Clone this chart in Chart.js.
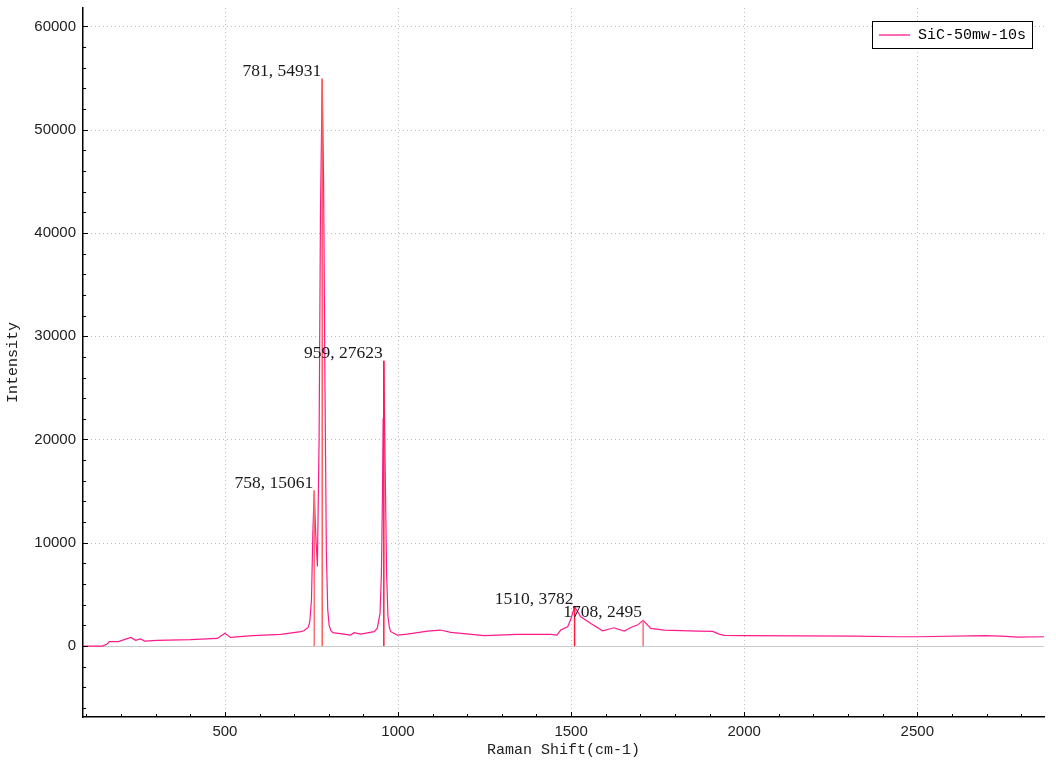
<!DOCTYPE html>
<html>
<head>
<meta charset="utf-8">
<script src="https://cdn.jsdelivr.net/npm/chart.js@4/dist/chart.umd.min.js"></script>
<style>
  html, body { margin: 0; padding: 0; background: #fff; }
  #wrap { width: 1056px; height: 768px; }
</style>
</head>
<body>
<div id="wrap"><canvas id="raman" width="1056" height="768"></canvas></div>
<script>
// spectrum (Raman shift, intensity)
const specX = [90, 146, 160, 166, 192, 228, 242, 256, 268, 304, 400, 478, 500, 516, 580, 661, 719, 728,
  740, 745, 750, 754, 758, 762, 767, 772, 776, 781, 785, 789, 793, 797, 801, 806, 812,
  863, 873, 892, 931, 940, 948, 952, 955, 957, 959, 961, 964, 967, 971, 975, 979,
  998, 1027, 1085, 1123, 1152, 1249, 1345, 1441, 1459, 1470, 1490, 1499, 1510, 1528,
  1557, 1591, 1624, 1653, 1677, 1692, 1708, 1730, 1769, 1865, 1909, 1928, 1942,
  2000, 2318, 2437, 2500, 2694, 2742, 2790, 2866]
const specY = [0, 0, 200, 420, 430, 840, 550, 700, 480, 550, 620, 740, 1230, 840, 1000, 1130, 1390, 1480,
  1800, 2300, 4500, 11000, 15061, 11000, 7700, 20000, 42000, 54931, 45000, 25000, 9000, 3500, 2000, 1500, 1300,
  1065, 1290, 1160, 1390, 1710, 3160, 7000, 14450, 22000, 27623, 22000, 14450, 7000, 2840, 1800, 1390,
  1065, 1160, 1450, 1550, 1320, 1000, 1130, 1130, 1065, 1550, 1870, 2600, 3782, 2840,
  2190, 1480, 1770, 1450, 1870, 2030, 2495, 1710, 1550, 1450, 1420, 1160, 1035,
  1000, 970, 900, 900, 1000, 970, 870, 900]

// marked peaks
const peakX = [758, 781, 959, 1510, 1708]
const peakY = [15061, 54931, 27623, 3782, 2495]

// tick labels
const xTicks = [500, 1000, 1500, 2000, 2500]
const yTicks = [0, 10000, 20000, 30000, 40000, 50000, 60000]

const seriesName = "SiC-50mw-10s"
const xTitle = "Raman Shift(cm-1)"
const yTitle = "Intensity"

const lineColor = '#ff1a8c'
const stemColors = ['#ff7070', '#ff5a5a', '#ff1a3c', '#ff1a3c', '#ff7070']

const spectrum = specX.map((x, i) => ({x: x, y: specY[i]}))
const stems = peakX.map((x, i) => ({
  label: 'peak' + x,
  data: [{x: x, y: 0}, {x: x, y: peakY[i]}],
  borderColor: stemColors[i],
  borderWidth: 1.5,
  pointRadius: 0,
  order: 0
}))

// dotted grid, zero line and small inward tick marks
const deco = {
  id: 'deco',
  beforeDatasetsDraw(chart){
    const {ctx, chartArea: a, scales: {x, y}} = chart
    ctx.save()
    ctx.strokeStyle = '#bdbdbd'
    ctx.lineWidth = 1
    ctx.setLineDash([1, 3])
    for(const t of y.ticks){
      const py = Math.round(y.getPixelForValue(t.value)) + 0.5
      if(t.value === 0) continue
      ctx.beginPath(); ctx.moveTo(a.left, py); ctx.lineTo(a.right, py); ctx.stroke()
    }
    for(const t of x.ticks){
      const px = Math.round(x.getPixelForValue(t.value)) + 0.5
      ctx.beginPath(); ctx.moveTo(px, a.top); ctx.lineTo(px, a.bottom); ctx.stroke()
    }
    ctx.setLineDash([])
    ctx.strokeStyle = '#c8c8c8'
    const z = Math.round(y.getPixelForValue(0)) + 0.5
    ctx.beginPath(); ctx.moveTo(a.left, z); ctx.lineTo(a.right, z); ctx.stroke()
    ctx.restore()
  },
  afterDraw(chart){
    const {ctx, chartArea: a, scales: {x, y}} = chart
    ctx.save()
    ctx.strokeStyle = '#000'
    ctx.lineWidth = 1
    for(let v = -6000; v <= y.max; v += 2000){
      const py = Math.round(y.getPixelForValue(v)) + 0.5
      const len = v % 10000 === 0 ? 5 : 3
      ctx.beginPath(); ctx.moveTo(a.left, py); ctx.lineTo(a.left + len, py); ctx.stroke()
    }
    for(let v = 100; v <= x.max; v += 100){
      const px = Math.round(x.getPixelForValue(v)) + 0.5
      const len = v % 500 === 0 ? 5 : 3
      ctx.beginPath(); ctx.moveTo(px, a.bottom); ctx.lineTo(px, a.bottom - len); ctx.stroke()
    }
    // peak labels
    ctx.font = '17.5px "Liberation Serif", serif'
    ctx.fillStyle = '#1a1a1a'
    ctx.textAlign = 'right'
    ctx.textBaseline = 'alphabetic'
    peakX.forEach((px, i) => {
      const sx = x.getPixelForValue(px)
      const sy = y.getPixelForValue(peakY[i])
      ctx.fillText(px + ', ' + peakY[i], sx - 1, sy - 3)
    })
    // legend box
    const bx = 872.5, by = 21.5, bw = 160, bh = 27
    ctx.fillStyle = '#fff'
    ctx.fillRect(bx, by, bw, bh)
    ctx.strokeStyle = '#000'
    ctx.strokeRect(bx, by, bw, bh)
    ctx.strokeStyle = lineColor
    ctx.lineWidth = 1.3
    ctx.beginPath(); ctx.moveTo(879, 35); ctx.lineTo(910, 35); ctx.stroke()
    ctx.fillStyle = '#000'
    ctx.textAlign = 'left'
    ctx.textBaseline = 'middle'
    ctx.font = '15px "Liberation Mono", monospace'
    ctx.fillText(seriesName, 918, 35)
    ctx.restore()
  }
}

const tickFont = {family: '"Liberation Sans", Arial, sans-serif', size: 15}
const titleFont = {family: '"Liberation Mono", monospace', size: 15}

new Chart('raman', {
  type: 'line',
  data: {
    datasets: [{
      label: seriesName,
      data: spectrum,
      borderColor: lineColor,
      borderWidth: 1.2,
      pointRadius: 0,
      tension: 0,
      order: 1
    }].concat(stems)
  },
  options: {
    responsive: false,
    animation: false,
    parsing: false,
    layout: {padding: {top: 8, right: 12, left: 0, bottom: 0}},
    plugins: {legend: {display: false}, tooltip: {enabled: false}},
    scales: {
      x: {
        type: 'linear',
        min: 90,
        max: 2866,
        grid: {display: false, drawTicks: false},
        border: {display: true, color: '#000', width: 1.5},
        ticks: {font: tickFont, color: '#222', padding: 6, maxRotation: 0, callback: v => String(v)},
        afterBuildTicks: s => { s.ticks = xTicks.map(v => ({value: v})) },
        title: {display: true, text: xTitle, font: titleFont, color: '#222', padding: {top: 4, bottom: 9}},
        afterFit: s => { s.height = 51; s.paddingLeft = 0; s.paddingRight = 0 }
      },
      y: {
        type: 'linear',
        min: -6870,
        max: 61780,
        grid: {display: false, drawTicks: false},
        border: {display: true, color: '#000', width: 1.5},
        ticks: {font: tickFont, color: '#222', padding: 7, callback: v => String(v)},
        afterBuildTicks: s => { s.ticks = yTicks.map(v => ({value: v})) },
        title: {display: true, text: yTitle, font: titleFont, color: '#222', padding: {top: 4, bottom: 4}},
        afterFit: s => { s.width = 83; s.paddingTop = 0; s.paddingBottom = 0 }
      }
    }
  },
  plugins: [deco]
})
</script>
</body>
</html>
